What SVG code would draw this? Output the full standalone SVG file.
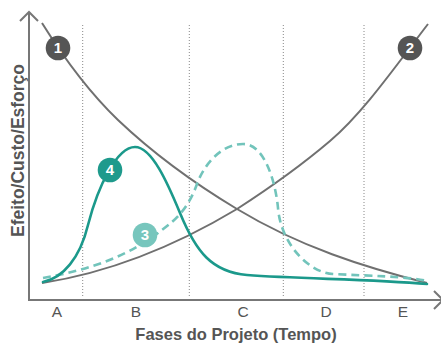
<svg xmlns="http://www.w3.org/2000/svg" width="441" height="344" viewBox="0 0 441 344">
<style>
.axis{fill:none;stroke:#777;stroke-width:2}
.grid{fill:none;stroke:#888;stroke-width:1;stroke-dasharray:1 2}
.gray{fill:none;stroke:#707070;stroke-width:2}
.solid{fill:none;stroke:#1b998b;stroke-width:2.6;stroke-linecap:round}
.dash{fill:none;stroke:#72c4bb;stroke-width:2.6;stroke-dasharray:8 5}
.lbl{font-family:"Liberation Sans",Arial,sans-serif;font-size:15.5px;fill:#555;text-anchor:middle}
.ttl{font-family:"Liberation Sans",Arial,sans-serif;font-weight:bold;fill:#555;text-anchor:middle}
.num{font-family:"Liberation Sans",Arial,sans-serif;font-weight:bold;font-size:15px;fill:#fff;text-anchor:middle}
</style>
<rect width="441" height="344" fill="#fff"/>
<g id="grid">
<line class="grid" x1="82.7" y1="25" x2="82.7" y2="298"/>
<line class="grid" x1="189.3" y1="25" x2="189.3" y2="298"/>
<line class="grid" x1="283.3" y1="25" x2="283.3" y2="298"/>
<line class="grid" x1="364" y1="25" x2="364" y2="298"/>
</g>
<g id="axes">
<polyline class="axis" points="29,12 29,300 443,300"/>
<polyline class="axis" points="20,21 29,12 38,21"/>
<polyline class="axis" points="434,291 443,300 434,309"/>
</g>
<g id="connectors">
<path id="curve1" class="gray" d="M42,23 C67,63 93,96 118,120 C158,158 197,185 237,209 C300,247 364,267 427,283"/>
<path id="curve2" class="gray" d="M42,283 C107,273 172,248 237,209 C268,189 299,167.4 330,141 C363,113 395,67 428,24"/>
<path id="curve3" class="dash" d="M43,278 C81,271 120,261 158,233 C172,222.5 187,212 197,184 C205,162 223,144 243,144 C266,144 276,186 278,208 C281,245 310,273 333,274 C370,276 405,276 427,281"/>
<path id="curve4" class="solid" d="M43,282 C63,278 80,258 88,225 C98,186 117,147 135,147 C152,147 168,184 180,213 C196,252 212,272 247,275 C300,279 370,279 427,284"/>
</g>
<g id="node1"><circle cx="58" cy="48" r="12.3" fill="#555"/><text class="num" x="58" y="53.3">1</text></g>
<g id="node2"><circle cx="410" cy="48" r="12.3" fill="#555"/><text class="num" x="410" y="53.3">2</text></g>
<g id="node3"><circle cx="145" cy="235" r="12.3" fill="#77c6bd"/><text class="num" x="145" y="240.3">3</text></g>
<g id="node4"><circle cx="110" cy="170" r="12.3" fill="#1e9a8c"/><text class="num" x="110" y="175.3">4</text></g>
<g id="labels">
<text class="lbl" x="57" y="317">A</text>
<text class="lbl" x="136" y="317">B</text>
<text class="lbl" x="243" y="317">C</text>
<text class="lbl" x="326" y="317">D</text>
<text class="lbl" x="403" y="317">E</text>
<text class="ttl" x="236" y="340" font-size="16.5">Fases do Projeto (Tempo)</text>
<text class="ttl" font-size="17.5" transform="translate(24,150.5) rotate(-90)">Efeito/Custo/Esforço</text>
</g>
</svg>
